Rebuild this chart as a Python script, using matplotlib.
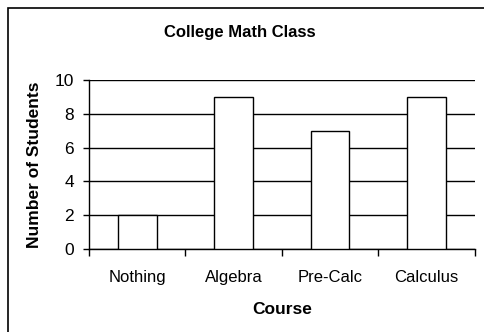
import matplotlib
matplotlib.use("Agg")
import matplotlib.pyplot as plt
import matplotlib.patches as mpatches

plt.rcParams['font.family'] = ['Liberation Sans', 'DejaVu Sans']

# data
courses = ["Nothing", "Algebra", "Pre-Calc", "Calculus"]
students = [2, 9, 7, 9]
y_ticks = [0, 2, 4, 6, 8, 10]

fig = plt.figure(figsize=(4.84, 3.32), dpi=100)
ax = fig.add_axes([0.184, 0.25, 0.797, 0.509])

# outer chart border (runs off the right and bottom edge)
border = mpatches.Rectangle((8 / 484, -0.05), 1.0, 1 - 8 / 332 + 0.05,
                            transform=fig.transFigure, fill=False,
                            edgecolor="black", linewidth=1.2, clip_on=False)
fig.patches.append(border)

x = list(range(len(courses)))
ax.bar(x, students, width=0.4, color="white", edgecolor="black",
       linewidth=1.0, zorder=3)

ax.set_xlim(-0.5, len(courses) - 0.5)
ax.set_ylim(0, 10)
ax.set_yticks(y_ticks)
ax.yaxis.grid(True, color="black", linewidth=1.0, zorder=0)
ax.set_axisbelow(True)

# category labels centered, tick marks between categories
ax.set_xticks([i - 0.5 for i in range(len(courses) + 1)])
ax.set_xticklabels([])
ax.set_xticks(x, minor=True)
ax.set_xticklabels(courses, minor=True, fontsize=12)
ax.tick_params(axis="x", which="minor", length=0, pad=15)
ax.tick_params(axis="x", which="major", direction="out", length=5, width=1.0)
ax.tick_params(axis="y", direction="out", length=4, width=1.0, labelsize=12.5, pad=7)

for side in ["top", "right"]:
    ax.spines[side].set_visible(False)
ax.spines["left"].set_linewidth(1.0)
ax.spines["bottom"].set_linewidth(1.0)

ax.set_xlabel("Course", fontsize=12.5, fontweight="bold", labelpad=12)
ax.set_ylabel("Number of Students", fontsize=12.5, fontweight="bold")
ax.yaxis.set_label_coords(-0.122, 0.5)

fig.text(240 / 484, 1 - 33 / 332, "College Math Class", ha="center",
         va="center", fontsize=12, fontweight="bold")

fig.savefig("out.png", dpi=100)
